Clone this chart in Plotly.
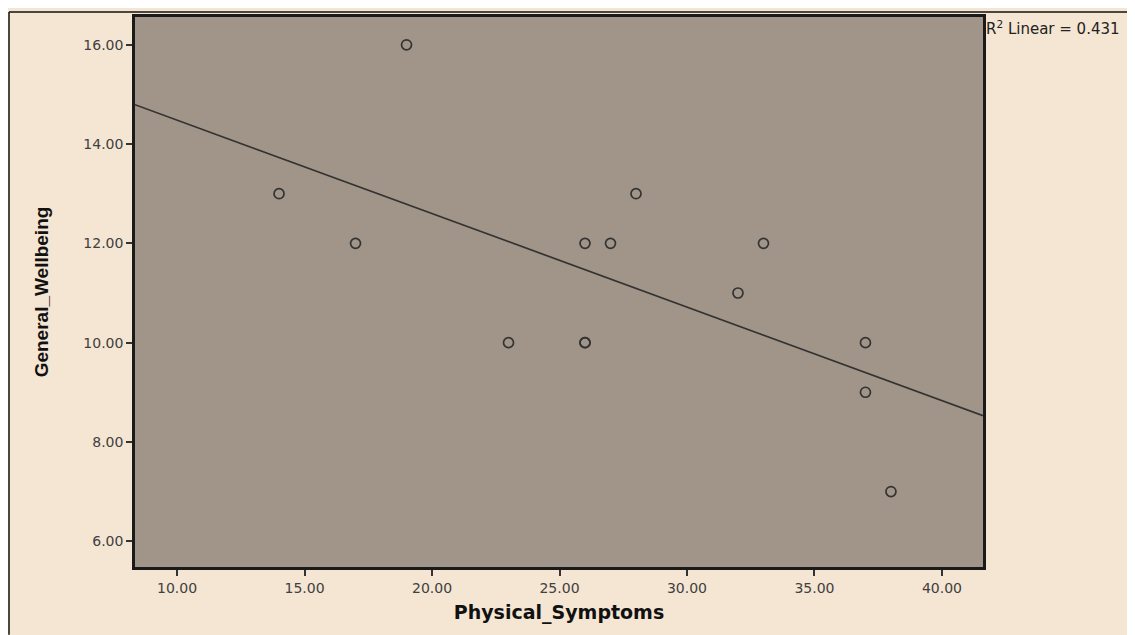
import numpy as np
import plotly.graph_objects as go

# Data
physical_symptoms = [14, 17, 19, 23, 26, 26, 26, 27, 28, 32, 33, 37, 37, 38]
general_wellbeing = [13, 12, 16, 10, 12, 10, 10, 12, 13, 11, 12, 10, 9, 7]
x_ticks = [10, 15, 20, 25, 30, 35, 40]
y_ticks = [6, 8, 10, 12, 14, 16]
x_range = [8.35, 41.61]
y_range = [5.48, 16.56]

x = np.array(physical_symptoms, dtype=float)
y = np.array(general_wellbeing, dtype=float)
slope, intercept = np.polyfit(x, y, 1)
r2 = np.corrcoef(x, y)[0, 1] ** 2
line_x = np.array(x_range)
line_y = intercept + slope * line_x

PAPER = "#F5E5D3"
PLOT = "#A09588"

W, H = 1127, 627
ML, MR, MT, MB = 127, 152, 6, 68
pw = W - ML - MR
ph = H - MT - MB

fig = go.Figure()
fig.add_trace(go.Scatter(x=line_x, y=line_y, mode="lines",
                         line=dict(color="#333333", width=1.7),
                         hoverinfo="skip", showlegend=False))
fig.add_trace(go.Scatter(x=physical_symptoms, y=general_wellbeing, mode="markers",
                         marker=dict(symbol="circle-open", size=10,
                                     line=dict(color="#333333", width=1.7),
                                     color="#333333"),
                         showlegend=False))

axis_common = dict(showgrid=False, zeroline=False, showline=True, mirror=True,
                   linecolor="#1a1a1a", linewidth=2.5, ticks="outside",
                   ticklen=6, tickwidth=1.5, tickcolor="#333333",
                   tickfont=dict(family="DejaVu Sans", size=14, color="#404040"))

fig.update_xaxes(range=x_range, tickvals=x_ticks,
                 ticktext=[f"{v:.2f}" for v in x_ticks],
                 title=dict(text="Physical_Symptoms", standoff=12,
                            font=dict(family="DejaVu Sans", size=19, color="#111111",
                                      weight="bold")),
                 **axis_common)
fig.update_yaxes(range=y_range, tickvals=y_ticks,
                 ticktext=[f"{v:.2f}" for v in y_ticks],
                 title=dict(text="General_Wellbeing", standoff=30,
                            font=dict(family="Liberation Sans", size=19,
                                      color="#111111", weight="bold")),
                 **axis_common)

fig.add_annotation(xref="paper", yref="paper", x=1.0015, y=0.980,
                   xanchor="left", yanchor="middle", showarrow=False,
                   text=f"R<sup>2</sup> Linear = {r2:.3f}",
                   font=dict(family="DejaVu Sans", size=15, color="#222222"))

# outer frame lines (top and left edges of the figure)
fx0 = (1 - ML) / pw
fy0 = 1 + (MT - 1) / ph
fig.add_shape(type="line", xref="paper", yref="paper",
              x0=fx0, x1=1 + MR / pw, y0=fy0, y1=fy0,
              line=dict(color="#111111", width=1.5))
fig.add_shape(type="line", xref="paper", yref="paper",
              x0=fx0, x1=fx0, y0=fy0, y1=-MB / ph,
              line=dict(color="#111111", width=1.5))

fig.update_layout(width=W, height=H,
                  margin=dict(l=ML, r=MR, t=MT, b=MB),
                  paper_bgcolor=PAPER, plot_bgcolor=PLOT,
                  showlegend=False)

fig.write_html("out.html")
